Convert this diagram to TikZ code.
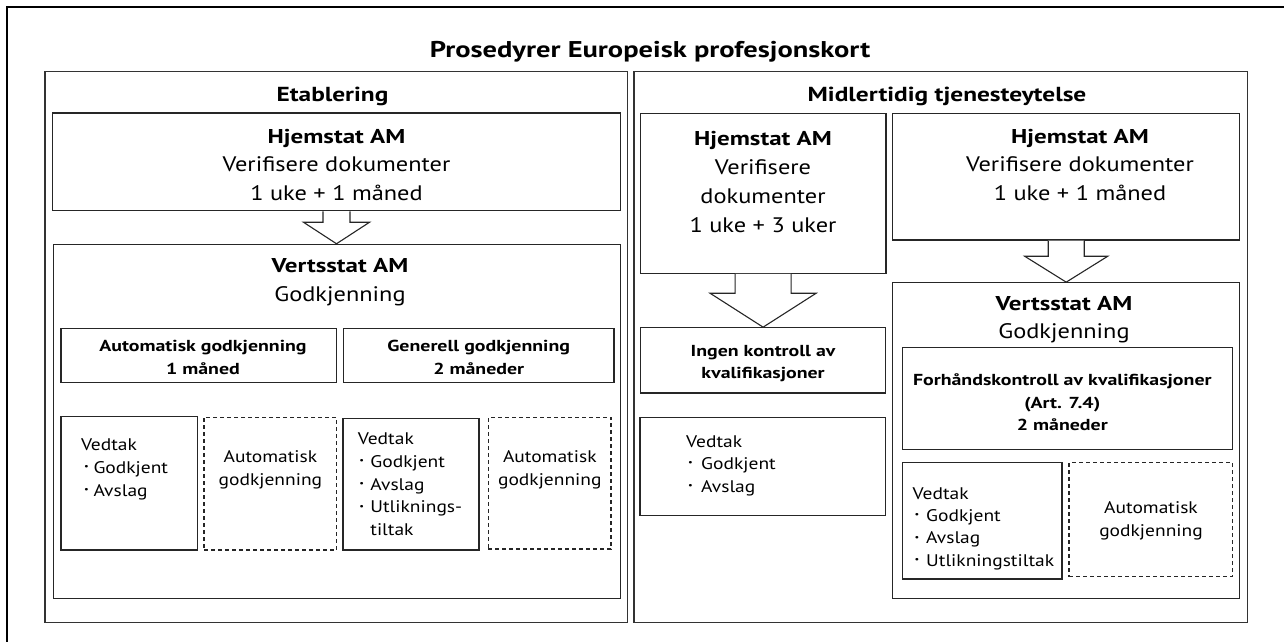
\documentclass[tikz,border=0pt]{standalone}
\usepackage{fontspec}
\setmainfont{PT Sans}[BoldFeatures={FakeStretch=1.25}]
\newfontfamily\rgf{PT Sans}[FakeStretch=1.16]
\usetikzlibrary{fit,calc}
\newcommand\fsz[2]{\fontsize{#1}{#2}\selectfont}
\newcommand\hb[3]{{\rmfamily\bfseries\fontsize{#1}{#2}\selectfont #3}}
\newcommand\bitem[3]{\hspace*{#1pt}\makebox[#2pt][l]{\raisebox{0.22em}{\fontsize{9}{9}\selectfont •}}#3}
\tikzset{
  ln/.style={draw=black!85, line width=1.1pt},
  bx/.style={ln, inner sep=0pt},
  dbx/.style={bx, dash pattern=on 4pt off 3pt},
  pnl/.style={draw=black!80, line width=1.1pt, inner sep=0pt},
  txt/.style={inner sep=0pt, anchor=base, align=center},
  ltxt/.style={inner sep=0pt, anchor=base west, align=left},
}
\begin{document}
\begin{tikzpicture}[x=1pt,y=-1pt]
\useasboundingbox (0,0) rectangle (1284,641);
% outer frame (open at right and bottom)
\draw[line width=2.3pt, black] (7.3,650) -- (7.3,7) -- (1295,7);
\node[txt, font=\bfseries\fsz{22.8}{28}] (title) at (650,57) {Prosedyrer Europeisk profesjonskort};

% panels
\node[pnl, fit={(45,71.7) (627.3,622.7)}] (pl) {};
\node[pnl, fit={(634,71.7) (1247.3,622.7)}] (pr) {};
\node[txt, font=\bfseries\fsz{20.3}{24}] (plh) at (332.5,101.7) {Etablering};
\node[txt, font=\bfseries\fsz{20.3}{24}] (prh) at (947,101.7) {Midlertidig tjenesteytelse};

% ---- Etablering ----
\node[bx, fit={(52.7,113) (620.3,210.7)}] (hl) {};
\node[bx, fit={(53.5,244.3) (620.3,598.7)}] (vl) {};
\node[txt, font=\rgf\fsz{21}{28.5}] (hlt) at (336.5,200.3) {\hb{20}{28.5}{Hjemstat AM}\\Verifisere dokumenter\\1 uke + 1 måned};
\node[txt, font=\rgf\fsz{21}{29}] (vlt) at (340,301.7) {\hb{20}{29}{Vertsstat AM}\\Godkjenning};
\draw[ln, fill=white] ($(hl.south)+(-13.5,0)$) -- ($(hl.south)+(-13.5,11)$) -- ($(hl.south)+(-33,11)$) -- (hl.south |- vl.north) -- ($(hl.south)+(33,11)$) -- ($(hl.south)+(13.5,11)$) -- ($(hl.south)+(13.5,0)$);

\node[bx, fit={(61,328.3) (336.7,382.7)}] (sa) {};
\node[bx, fit={(343.4,328.3) (614,382.7)}] (sg) {};
\node[txt, font=\bfseries\fsz{15.9}{23}] (sat) at (203,374.7) {Automatisk godkjenning\\1 måned};
\node[txt, font=\bfseries\fsz{15.9}{23}] (sgt) at (478.7,374.7) {Generell godkjenning\\2 måneder};

\node[bx, fit={(61,416.7) (197.4,550)}] (va) {};
\node[dbx, fit={(204,417.3) (336.7,550)}] (da) {};
\node[bx, fit={(343,418.3) (479,550)}] (vg) {};
\node[dbx, fit={(488.2,417.3) (611,549)}] (dg) {};
\node[ltxt, font=\rgf\fsz{16.8}{22.7}] (vat) at (80.8,496.1) {Vedtak\\\bitem{3}{9.5}{Godkjent}\\\bitem{3}{9.5}{Avslag}};
\node[txt, font=\rgf\fsz{16.8}{22.7}] (dat) at (270.4,485.4) {Automatisk\\godkjenning};
\node[ltxt, font=\rgf\fsz{16.8}{22.7}] (vgt) at (357.7,535.4) {Vedtak\\\bitem{1.5}{11}{Godkjent}\\\bitem{1.5}{11}{Avslag}\\\bitem{1.5}{11}{Utliknings-}\\\hspace*{12.5pt}tiltak};
\node[txt, font=\rgf\fsz{16.8}{22.7}] (dgt) at (549.8,485.4) {Automatisk\\godkjenning};

% ---- Midlertidig ----
\node[bx, fit={(640.2,113.3) (886,273.3)}] (hm) {};
\node[bx, fit={(892.7,113.3) (1239.7,240)}] (hr) {};
\node[txt, font=\rgf\fsz{21}{29}] (hmt) at (763,232.3) {\hb{20}{29}{Hjemstat AM}\\Verifisere\\dokumenter\\1 uke + 3 uker};
\node[txt, font=\rgf\fsz{21}{28.5}] (hrt) at (1080,200.3) {\hb{20}{28.5}{Hjemstat AM}\\Verifisere dokumenter\\1 uke + 1 måned};

\node[bx, fit={(640.2,327.7) (885.8,393)}] (ik) {};
\node[txt, font=\bfseries\fsz{15.9}{22.3}] (ikt) at (763,378.7) {Ingen kontroll av\\kvalifikasjoner};
\node[bx, fit={(640,417.7) (885.8,515.7)}] (vi) {};
\node[ltxt, font=\rgf\fsz{16.8}{22.5}] (vit) at (686,492) {Vedtak\\\bitem{2}{13}{Godkjent}\\\bitem{2}{13}{Avslag}};
\draw[ln, fill=white] ($(hm.south)+(-28,0)$) -- ($(hm.south)+(-28,19.4)$) -- ($(hm.south)+(-53,19.4)$) -- (hm.south |- ik.north) -- ($(hm.south)+(53,19.4)$) -- ($(hm.south)+(28,19.4)$) -- ($(hm.south)+(28,0)$);

\node[bx, fit={(892.7,282.7) (1239.7,598.7)}] (vr) {};
\node[txt, font=\rgf\fsz{21}{28.4}] (vrt) at (1064,338.7) {\hb{20}{28.4}{Vertsstat AM}\\Godkjenning};
\draw[ln, fill=white] ($(hr.south)+(-18,0)$) -- ($(hr.south)+(-18,15.7)$) -- ($(hr.south)+(-41.5,15.7)$) -- (hr.south |- vr.north) -- ($(hr.south)+(41.5,15.7)$) -- ($(hr.south)+(18,15.7)$) -- ($(hr.south)+(18,0)$);

\node[bx, fit={(902.4,347.7) (1232.7,449.3)}] (fk) {};
\node[txt, font=\bfseries\fsz{15.9}{22.7}] (fkt) at (1062.3,430.7) {Forhåndskontroll av kvalifikasjoner\\(Art. 7.4)\\2 måneder};
\node[bx, fit={(902.4,462.7) (1062,579)}] (vf) {};
\node[dbx, fit={(1069,462.7) (1232.3,576.7)}] (df) {};
\node[ltxt, font=\rgf\fsz{16.8}{22.4}] (vft) at (912.5,566.2) {Vedtak\\\bitem{2}{11.5}{Godkjent}\\\bitem{2}{11.5}{Avslag}\\\bitem{2}{11.5}{Utlikningstiltak}};
\node[txt, font=\rgf\fsz{16.8}{22.7}] (dft) at (1151,536.3) {Automatisk\\godkjenning};
\end{tikzpicture}
\end{document}
